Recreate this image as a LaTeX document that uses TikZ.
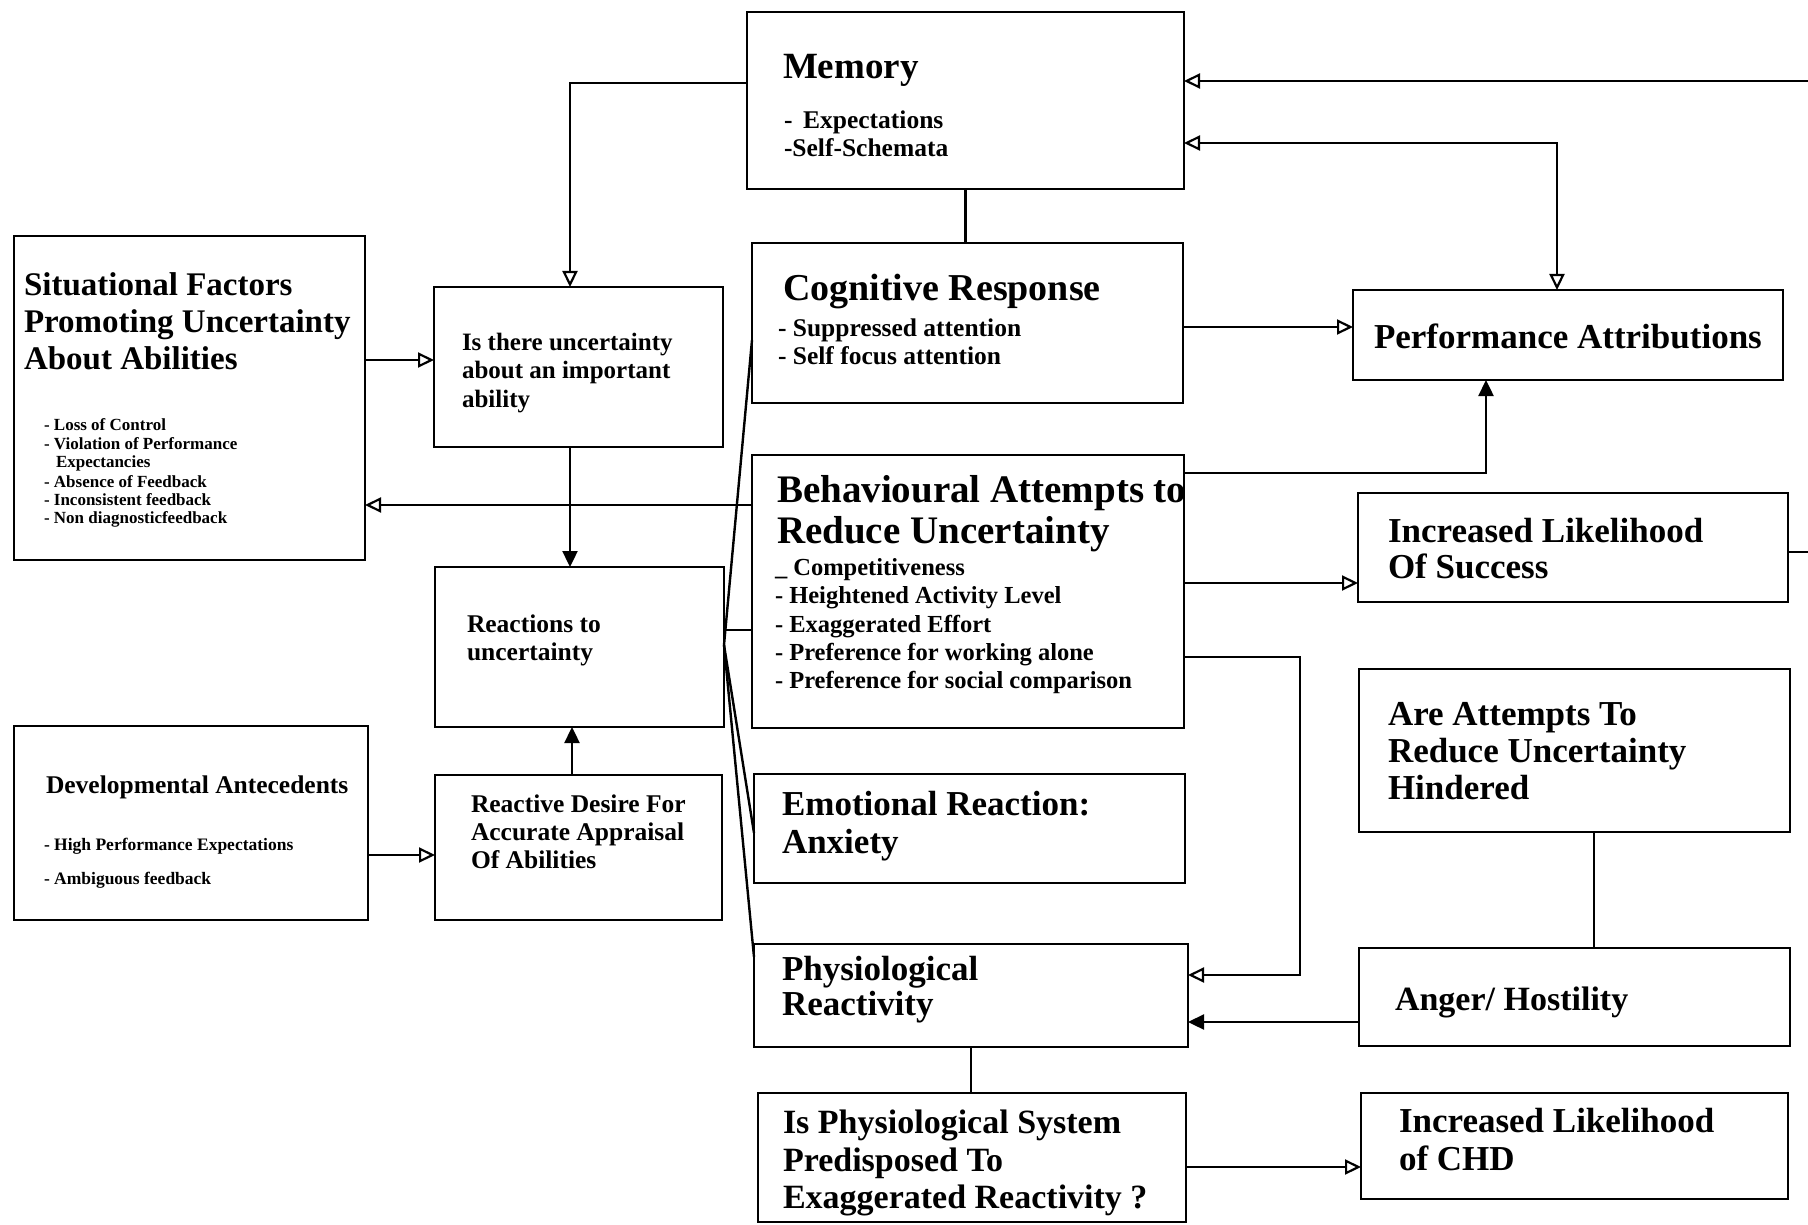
\documentclass[tikz,border=0pt]{standalone}
\usepackage{fontspec}
\setmainfont{Liberation Serif}
\usetikzlibrary{arrows.meta}

% one line of bold text, placed by its baseline
\newcommand\lineat[5]{\node[txt, font=\fontsize{#4}{#4}\selectfont\bfseries] (#1) at (#2,#3) {#5};}
% a box given by its left, top, right and bottom edges
\newcommand\boxat[5]{\node[box, minimum width={(#4)-(#2)}, minimum height={(#5)-(#3)}] (#1) at ({((#2)+(#4))/2},{((#3)+(#5))/2}) {};}

\tikzset{
  box/.style={draw, line width=2.6pt, inner sep=0pt, outer sep=0pt},
  txt/.style={anchor=base west, inner sep=0pt, outer sep=0pt},
  conn/.style={line width=2.4pt},
  oarr/.style={conn, -{Triangle[open, length=16pt, width=15pt, line width=2.2pt]}},
  farr/.style={conn, -{Triangle[length=16pt, width=15pt]}},
  barr/.style={conn, {Triangle[open, length=16pt, width=15pt, line width=2.2pt]}-{Triangle[open, length=16pt, width=15pt, line width=2.2pt]}},
}

\begin{document}
\begin{tikzpicture}[x=1pt, y=-1pt]
\useasboundingbox[fill=white] (0,0) rectangle (1808,1225);

% ---------- boxes ----------
\boxat{mem}{747}{12}{1184}{189}
\boxat{cog}{752}{243}{1183}{403}
\boxat{beh}{752}{455}{1184}{728}
\boxat{emo}{754}{774}{1185}{883}
\boxat{phy}{754}{944}{1188}{1047}
\boxat{isp}{758}{1093}{1186}{1222}
\boxat{sit}{14}{236}{365}{560}
\boxat{isthere}{434}{287}{723}{447}
\boxat{react}{435}{567}{724}{727}
\boxat{desire}{435}{775}{722}{920}
\boxat{dev}{14}{726}{368}{920}
\boxat{perf}{1353}{290}{1783}{380}
\boxat{succ}{1358}{493}{1788}{602}
\boxat{att}{1359}{669}{1790}{832}
\boxat{ang}{1359}{948}{1790}{1046}
\boxat{chd}{1361}{1093}{1788}{1199}

% ---------- texts ----------
\lineat{mem1}{783}{79}{37}{Memory}
\lineat{mem2}{784}{129}{25.5}{-\, Expectations}
\lineat{mem3}{784}{157}{25.5}{-Self-Schemata}

\lineat{cog1}{783}{300}{38}{Cognitive Response}
\lineat{cog2}{778}{336}{25.5}{- Suppressed attention}
\lineat{cog3}{778}{364}{25.5}{- Self focus attention}

\lineat{beh1}{777}{502}{39}{Behavioural Attempts to}
\lineat{beh2}{777}{543}{39}{Reduce Uncertainty}
\lineat{beh3}{775}{575}{24.5}{\_ Competitiveness}
\lineat{beh4}{775}{603}{24.5}{- Heightened Activity Level}
\lineat{beh5}{775}{632}{24.5}{- Exaggerated Effort}
\lineat{beh6}{775}{660}{24.5}{- Preference for working alone}
\lineat{beh7}{775}{688}{24.5}{- Preference for social comparison}

\lineat{emo1}{782}{815}{35}{Emotional Reaction:}
\lineat{emo2}{782}{853}{35}{Anxiety}

\lineat{phy1}{782}{980}{35}{Physiological}
\lineat{phy2}{782}{1015}{35}{Reactivity}

\lineat{isp1}{783}{1133}{34}{Is Physiological System}
\lineat{isp2}{783}{1171}{34}{Predisposed To}
\lineat{isp3}{783}{1208}{34}{Exaggerated Reactivity ?}

\lineat{perf1}{1374}{348}{35}{Performance Attributions}

\lineat{succ1}{1388}{542}{35}{Increased Likelihood}
\lineat{succ2}{1388}{578}{35}{Of Success}

\lineat{att1}{1388}{725}{35}{Are Attempts To}
\lineat{att2}{1388}{762}{35}{Reduce Uncertainty}
\lineat{att3}{1388}{799}{35}{Hindered}

\lineat{ang1}{1395}{1010}{34}{Anger/ Hostility}

\lineat{chd1}{1399}{1132}{35}{Increased Likelihood}
\lineat{chd2}{1399}{1170}{35}{of CHD}

\lineat{sit1}{24}{295}{33}{Situational Factors}
\lineat{sit2}{24}{332}{33}{Promoting Uncertainty}
\lineat{sit3}{24}{369}{33}{About Abilities}
\lineat{sit4}{44}{430}{17}{- Loss of Control}
\lineat{sit5}{44}{449}{17}{- Violation of Performance}
\lineat{sit6}{56}{467}{17}{Expectancies}
\lineat{sit7}{44}{487}{17}{- Absence of Feedback}
\lineat{sit8}{44}{505}{17}{- Inconsistent feedback}
\lineat{sit9}{44}{523}{17}{- Non diagnosticfeedback}

\lineat{dev1}{46}{793}{25.5}{Developmental Antecedents}
\lineat{dev2}{44}{850}{17.5}{- High Performance Expectations}
\lineat{dev3}{44}{884}{17.5}{- Ambiguous feedback}

\lineat{ist1}{462}{350}{25}{Is there uncertainty}
\lineat{ist2}{462}{378}{25}{about an important}
\lineat{ist3}{462}{407}{25}{ability}

\lineat{rea1}{467}{632}{25.5}{Reactions to}
\lineat{rea2}{467}{660}{25.5}{uncertainty}

\lineat{des1}{471}{812}{25.5}{Reactive Desire For}
\lineat{des2}{471}{840}{25.5}{Accurate Appraisal}
\lineat{des3}{471}{868}{25.5}{Of Abilities}

% ---------- connectors ----------
\coordinate (redgeA) at (1808,81);
\coordinate (redgeB) at (1808,552);

% memory feeds the uncertainty question
\draw[oarr] ([yshift=17.5pt]mem.west) -| ([xshift=-8.5pt]isthere.north);
% memory to cognitive response
\draw[conn] (mem.south) -- (mem.south |- cog.north);
% long return line into memory
\draw[oarr] (redgeA) -- (redgeA -| mem.east);
% memory and attributions, both ways
\draw[barr] ([yshift=-42.5pt]mem.east) -| ([xshift=-11pt]perf.north);
% cognitive response to attributions
\draw[oarr] ([yshift=-4pt]cog.east) coordinate (c5) -- (c5 -| perf.west);
% behaviour up to attributions
\draw[farr] ([yshift=118.5pt]beh.east) -| ([xshift=-82pt]perf.south);
% behaviour to success
\draw[oarr] ([yshift=8.5pt]beh.east) coordinate (c7) -- (c7 -| succ.west);
\draw[conn] ([yshift=-4.5pt]succ.east) coordinate (c7b) -- (c7b -| redgeB);
% behaviour down to physiological reactivity
\draw[oarr] ([yshift=-65.5pt]beh.east) -- ++(116pt,0) |- ([yshift=20.5pt]phy.east);
% anger to physiological reactivity
\draw[farr] ([yshift=-25pt]ang.west) coordinate (c9) -- (c9 -| phy.east);
% hindered attempts to anger
\draw[conn] ([xshift=19.5pt]att.south) coordinate (c10) -- (c10 |- ang.north);
% physiological reactivity to predisposition
\draw[conn] (phy.south) -- (phy.south |- isp.north);
% predisposition to CHD
\draw[oarr] ([yshift=-9.5pt]isp.east) coordinate (c12) -- (c12 -| chd.west);
% situational factors to the question
\draw[oarr] ([yshift=38pt]sit.east) coordinate (c13) -- (c13 -| isthere.west);
% behaviour back to situational factors
\draw[oarr] ([yshift=86.5pt]beh.west) coordinate (c14) -- (c14 -| sit.east);
% question to reactions
\draw[farr] ([xshift=-8.5pt]isthere.south) coordinate (c15) -- (c15 |- react.north);
% reactive desire to reactions
\draw[farr] ([xshift=-6.5pt]desire.north) coordinate (c16) -- (c16 |- react.south);
% developmental antecedents to reactive desire
\draw[oarr] ([yshift=-32pt]dev.east) coordinate (c17) -- (c17 -| desire.west);

% reactions fan out to the four responses
\coordinate (fan) at ([yshift=2pt]react.east);
\draw[conn] (fan) -- ([yshift=-17pt]cog.west);
\draw[conn] ([yshift=17pt]react.east) coordinate (c18) -- (c18 -| beh.west);
\draw[conn] (fan) -- ([yshift=-4.5pt]emo.west);
\draw[conn] (fan) -- ([yshift=38.5pt]phy.west);
\end{tikzpicture}
\end{document}
